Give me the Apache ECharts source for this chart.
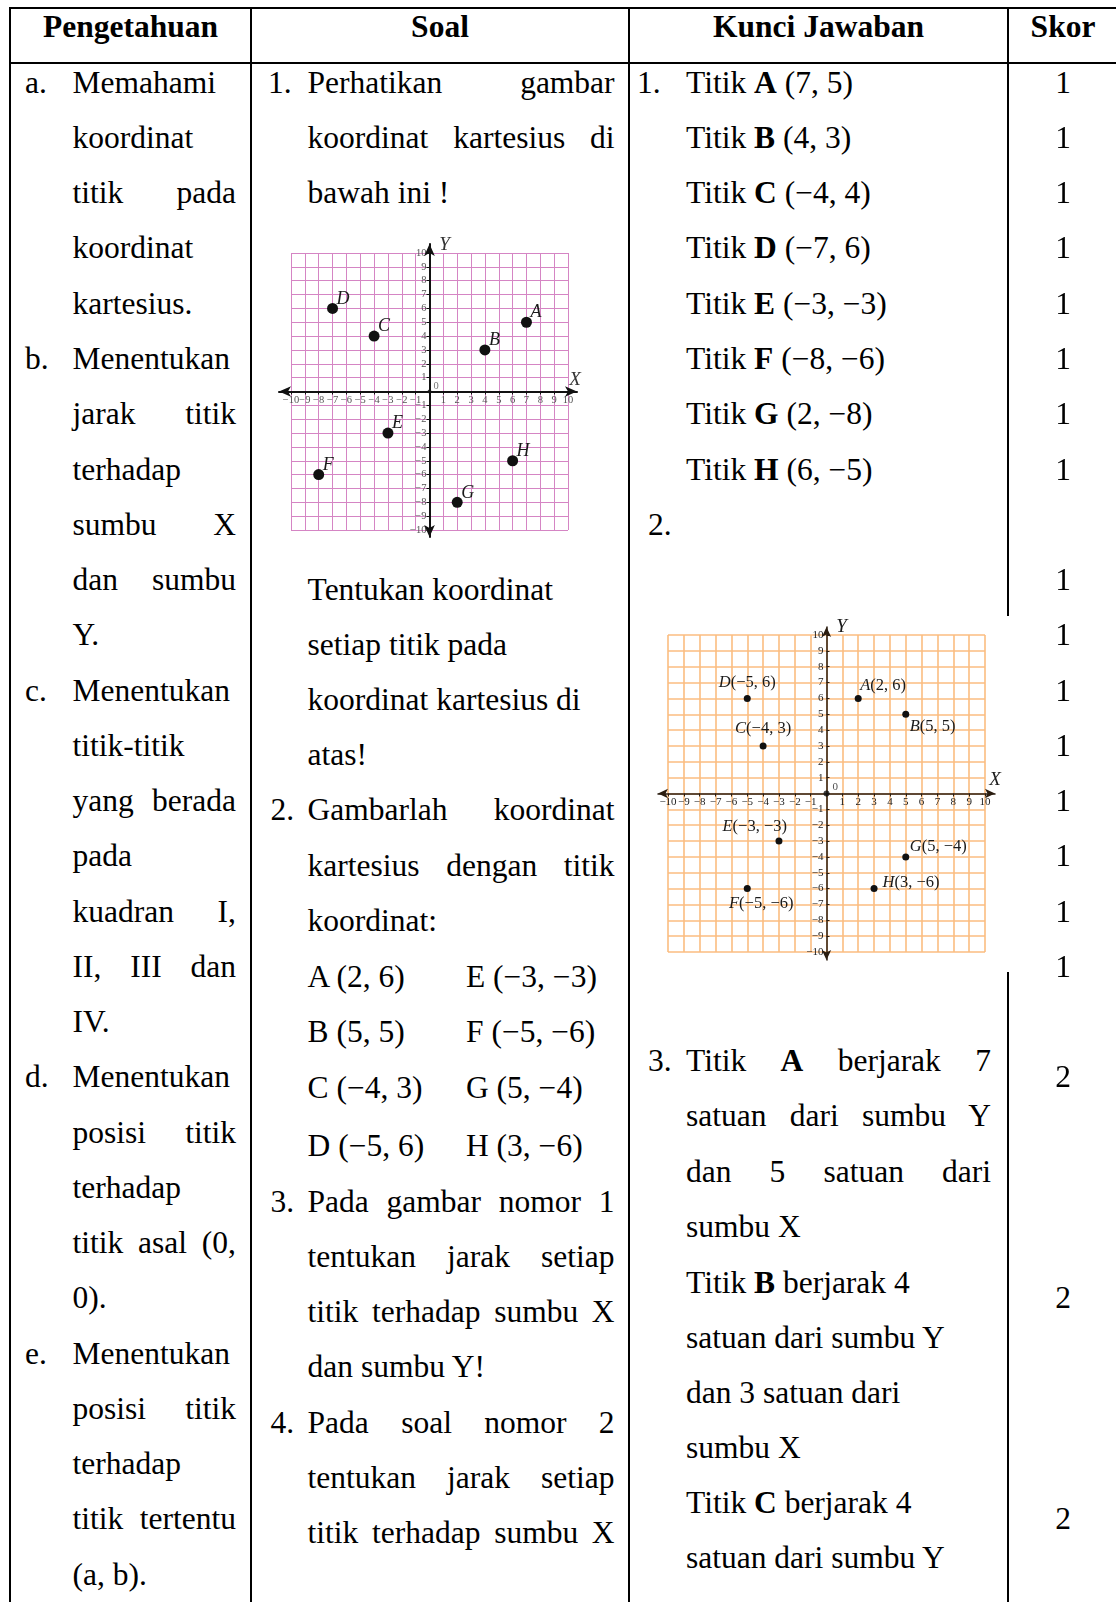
<!DOCTYPE html>
<html>
<head>
<meta charset="utf-8">
<title>Koordinat Kartesius</title>
<script src="https://cdn.jsdelivr.net/npm/echarts@6.0.0/dist/echarts.min.js"></script>
<style>
  html, body { margin: 0; padding: 0; background: #fff; }
  body { position: relative; width: 1116px; height: 1602px; overflow: hidden;
         font-family: "Liberation Serif", "DejaVu Serif", serif; color: #000; }
  .ln { position: absolute; font-size: 31.5px; line-height: 40px; white-space: nowrap; }
  .ln.j { white-space: normal; text-align: justify; text-align-last: justify; }
  .ln.c { text-align: center; }
  .ln.hd { font-weight: bold; }
  .rule { position: absolute; background: #000; }
  .chart { position: absolute; background: #fff; }
</style>
</head>
<body>
<!-- garis tabel -->
<div class="rule" style="left:9px;top:7px;width:1110px;height:2px"></div>
<div class="rule" style="left:9px;top:62px;width:1110px;height:2px"></div>
<div class="rule" style="left:9px;top:7px;width:2px;height:1600px"></div>
<div class="rule" style="left:250px;top:7px;width:2px;height:1600px"></div>
<div class="rule" style="left:628px;top:7px;width:2px;height:1600px"></div>
<div class="rule" style="left:1007px;top:7px;width:2px;height:1600px"></div>

<div id="gambar1" class="chart" style="left:262px;top:228px;width:336px;height:322px"></div>
<div id="gambar2" class="chart" style="left:640px;top:616px;width:374px;height:356px"></div>

<script>
// titik pada gambar nomor 1
const titik1 = ['A', 'B', 'C', 'D', 'E', 'F', 'G', 'H'];
const titik1X = [7, 4, -4, -7, -3, -8, 2, 6];
const titik1Y = [5, 3, 4, 6, -3, -6, -8, -5];

// titik pada soal nomor 2
const titik2 = ['A', 'B', 'C', 'D', 'E', 'F', 'G', 'H'];
const titik2X = [2, 5, -4, -5, -3, -5, 5, 3];
const titik2Y = [6, 5, 3, 6, -3, -6, -4, -6];

const titikAsal = [0, 0];
const sumbuMin = -10, sumbuMax = 10, sumbuStep = 1;
const sumbuTicks = [-10, -9, -8, -7, -6, -5, -4, -3, -2, -1, 0, 1, 2, 3, 4, 5, 6, 7, 8, 9, 10];

const skor = [1, 1, 1, 1, 1, 1, 1, 1, 1, 1, 1, 1, 1, 1, 1, 1, 2, 2, 2];
const skorBaris = [0, 1, 2, 3, 4, 5, 6, 7, 9, 10, 11, 12, 13, 14, 15, 16, 18, 22, 26];

const SERIF = '"Liberation Serif", "DejaVu Serif", serif';
const minus = v => v < 0 ? '\u2212' + (-v) : String(v);

// ---------- teks tabel ----------
const ROW0 = 93.3, ROW = 55.26;
const baris = i => ROW0 + ROW * i;
const dariKecil = c => c * 1.022 + 9.5;   // posisi baris yang diukur dari gambar kecil

function put(x, base, html, w, cls) {
  const d = document.createElement('div');
  d.className = 'ln' + (cls ? ' ' + cls : '');
  d.style.left = x + 'px';
  d.style.top = (base - 30.6) + 'px';
  if (w) d.style.width = w + 'px';
  d.innerHTML = html;
  document.body.appendChild(d);
}

// header
put(11, 38, 'Pengetahuan', 239, 'c hd');
put(252, 38, 'Soal', 376, 'c hd');
put(630, 38, 'Kunci Jawaban', 377, 'c hd');
put(1009, 38, 'Skor', 108, 'c hd');

// kolom pengetahuan
const pengetahuan = [
  ['a.', 'Memahami', 0], ['', 'koordinat', 0], ['', 'titik pada', 1], ['', 'koordinat', 0], ['', 'kartesius.', 0],
  ['b.', 'Menentukan', 0], ['', 'jarak titik', 1], ['', 'terhadap', 0], ['', 'sumbu X', 1], ['', 'dan sumbu', 1], ['', 'Y.', 0],
  ['c.', 'Menentukan', 0], ['', 'titik-titik', 0], ['', 'yang berada', 1], ['', 'pada', 0], ['', 'kuadran I,', 1],
  ['', 'II, III dan', 1], ['', 'IV.', 0],
  ['d.', 'Menentukan', 0], ['', 'posisi titik', 1], ['', 'terhadap', 0], ['', 'titik asal (0,', 1], ['', '0).', 0],
  ['e.', 'Menentukan', 0], ['', 'posisi titik', 1], ['', 'terhadap', 0], ['', 'titik tertentu', 1], ['', '(a, b).', 0]
];
pengetahuan.forEach((r, i) => {
  if (r[0]) put(25, baris(i), r[0]);
  put(72.5, baris(i), r[1], r[2] ? 163.5 : 0, r[2] ? 'j' : '');
});

// kolom soal
const soal1 = [['1.', 'Perhatikan gambar', 1], ['', 'koordinat kartesius di', 1], ['', 'bawah ini !', 0]];
soal1.forEach((r, i) => {
  if (r[0]) put(268, baris(i), r[0]);
  put(307.6, baris(i), r[1], r[2] ? 307 : 0, r[2] ? 'j' : '');
});
const soal2 = [
  [578, '', 'Tentukan koordinat', 0], [632, '', 'setiap titik pada', 0], [686, '', 'koordinat kartesius di', 0],
  [740, '', 'atas!', 0], [794, '2.', 'Gambarlah koordinat', 1], [848, '', 'kartesius dengan titik', 1],
  [902, '', 'koordinat:', 0],
  [1177, '3.', 'Pada gambar nomor 1', 1], [1231, '', 'tentukan jarak setiap', 1], [1285, '', 'titik terhadap sumbu X', 1],
  [1339, '', 'dan sumbu Y!', 0], [1393, '4.', 'Pada soal nomor 2', 1], [1447, '', 'tentukan jarak setiap', 1],
  [1501, '', 'titik terhadap sumbu X', 1]
];
soal2.forEach(r => {
  const b = dariKecil(r[0]);
  if (r[1]) put(270.5, b, r[1]);
  put(307.6, b, r[2], r[3] ? 307 : 0, r[3] ? 'j' : '');
});
const barisTitik = [957, 1011, 1066, 1122];
barisTitik.forEach((c, i) => {
  const k = i + 4;
  put(307.6, dariKecil(c), titik2[i] + ' (' + minus(titik2X[i]) + ', ' + minus(titik2Y[i]) + ')');
  put(466, dariKecil(c), titik2[k] + ' (' + minus(titik2X[k]) + ', ' + minus(titik2Y[k]) + ')');
});

// kolom kunci jawaban
put(637, baris(0), '1.');
titik1.forEach((n, i) => {
  put(686, baris(i), 'Titik <b>' + n + '</b> (' + minus(titik1X[i]) + ', ' + minus(titik1Y[i]) + ')');
});
put(648, baris(8), '2.');
const kunci3 = [
  [1039, '3.', 'Titik <b>A</b> berjarak 7', 1], [1093, '', 'satuan dari sumbu Y', 1], [1148, '', 'dan 5 satuan dari', 1],
  [1202, '', 'sumbu X', 0], [1256, '', 'Titik <b>B</b> berjarak 4', 0], [1310, '', 'satuan dari sumbu Y', 0],
  [1364, '', 'dan 3 satuan dari', 0], [1418, '', 'sumbu X', 0], [1472, '', 'Titik <b>C</b> berjarak 4', 0],
  [1526, '', 'satuan dari sumbu Y', 0]
];
kunci3.forEach(r => {
  const b = dariKecil(r[0]);
  if (r[1]) put(648, b, r[1]);
  put(686, b, r[2], r[3] ? 305 : 0, r[3] ? 'j' : '');
});

// kolom skor
skor.forEach((s, i) => put(1009, baris(skorBaris[i]), String(s), 108, 'c'));

// ---------- bidang kartesius ----------
function bidang(el, cfg, names, xs, ys) {
  const chart = echarts.init(el, null, { renderer: 'canvas' });
  const g = cfg.grid;
  const unit = g.size / (sumbuMax - sumbuMin);
  const ox = g.left - sumbuMin * unit, oy = g.top + sumbuMax * unit;
  const h = cfg.arrowLen / 2;
  // grid kedua untuk garis sumbu berpanah (lebih panjang dari kisi)
  const a = {
    left: cfg.arrowX[0] + h, width: cfg.arrowX[1] - cfg.arrowX[0] - 2 * h,
    top: cfg.arrowY[0] + h, height: cfg.arrowY[1] - cfg.arrowY[0] - 2 * h
  };
  const xmin = (a.left - ox) / unit, xmax = (a.left + a.width - ox) / unit;
  const ymax = (oy - a.top) / unit, ymin = (oy - a.top - a.height) / unit;
  // geser sumbu dari tepi grid ke titik nol
  const geserX = -(a.top + a.height - oy), geserY = -(ox - a.left);

  const tickFmt = v => v === 0 ? '' : minus(v);
  const kisi = () => ({
    gridIndex: 0, type: 'value', min: sumbuMin, max: sumbuMax, interval: sumbuStep,
    axisLine: { show: false }, axisTick: { show: false }, axisLabel: { show: false },
    splitLine: { show: true, lineStyle: { color: cfg.gridColor, width: cfg.gridWidth } }
  });
  const sumbu = (isX) => ({
    gridIndex: 1, type: 'value', min: isX ? xmin : ymin, max: isX ? xmax : ymax,
    position: isX ? 'bottom' : 'left', offset: isX ? geserX : geserY,
    axisLine: { show: true, onZero: false, symbol: ['arrow', 'arrow'], symbolSize: [cfg.arrowW, cfg.arrowLen],
                lineStyle: { color: cfg.axisColor, width: cfg.axisWidth } },
    axisTick: { show: true, customValues: sumbuTicks, inside: !isX && cfg.yTickInside, length: cfg.tickLen,
                lineStyle: { color: cfg.axisColor, width: 1 } },
    axisLabel: { show: true, customValues: sumbuTicks, formatter: tickFmt,
                 margin: isX ? cfg.xLabelMargin : cfg.yLabelMargin,
                 fontSize: cfg.tickFont, fontFamily: SERIF, color: cfg.tickColor },
    splitLine: { show: false },
    name: isX ? 'X' : 'Y', nameLocation: 'end', nameGap: isX ? cfg.xNameGap : cfg.yNameGap,
    nameMoveOverlap: false,
    nameTextStyle: isX
      ? { fontFamily: SERIF, fontStyle: 'italic', fontSize: cfg.nameFont, color: cfg.nameColor,
          align: 'center', verticalAlign: 'bottom', lineHeight: cfg.xNameLift }
      : { fontFamily: SERIF, fontStyle: 'italic', fontSize: cfg.nameFont, color: cfg.nameColor,
          align: 'center', verticalAlign: 'middle', padding: [0, 0, 0, 30] }
  });

  chart.setOption({
    animation: false,
    grid: [
      { left: g.left, top: g.top, width: g.size, height: g.size, outerBoundsMode: 'none', containLabel: false },
      { left: a.left, top: a.top, width: a.width, height: a.height, outerBoundsMode: 'none', containLabel: false }
    ],
    xAxis: [kisi(), sumbu(true)],
    yAxis: [kisi(), sumbu(false)],
    series: [
      {
        type: 'scatter', xAxisIndex: 0, yAxisIndex: 0, silent: true, z: 5,
        symbolSize: cfg.dot, itemStyle: { color: '#111', opacity: 1 },
        data: names.map((n, i) => Object.assign({ name: n, value: [xs[i], ys[i]] },
                                                cfg.labelAt ? { label: cfg.labelAt[i] } : {})),
        label: {
          show: true, position: 'right', offset: cfg.labelOffset, color: '#1a1a1a',
          fontFamily: SERIF, fontSize: cfg.labelFont,
          formatter: cfg.labelFmt,
          rich: { i: { fontFamily: SERIF, fontStyle: 'italic', fontSize: cfg.labelFont, color: '#1a1a1a' } }
        }
      },
      {
        type: 'scatter', xAxisIndex: 0, yAxisIndex: 0, silent: true, z: 5,
        symbolSize: cfg.originDot, itemStyle: { color: '#111' },
        data: [titikAsal],
        label: { show: true, position: 'right', offset: cfg.zeroOffset, formatter: '0',
                 fontFamily: SERIF, fontSize: cfg.tickFont, color: cfg.tickColor }
      }
    ]
  });
  return chart;
}

// gambar nomor 1 (kisi merah muda)
bidang(document.getElementById('gambar1'), {
  grid: { left: 29, top: 25, size: 277 },
  arrowX: [11, 321], arrowY: [10, 315], arrowLen: 12, arrowW: 8,
  axisColor: '#111', axisWidth: 2, gridColor: '#d585c4', gridWidth: 1,
  tickLen: 3, yTickInside: false, tickFont: 10.5, tickColor: '#555', xLabelMargin: 3, yLabelMargin: 3,
  nameFont: 19, nameColor: '#333', xNameGap: -2, xNameLift: 24, yNameGap: -1,
  dot: 11, originDot: 4, zeroOffset: [-3, -5],
  labelFont: 18, labelOffset: [-6.5, -9.5],
  labelFmt: '{i|{b}}'
}, titik1, titik1X, titik1Y);

// soal nomor 2 (kisi oranye) dengan label koordinat
const letakLabel2 = [
  { position: 'right', offset: [-6.5, -13] },
  { position: 'right', offset: [-4.5, 12.5] },
  { position: 'top', offset: [0, 0] },
  { position: 'top', offset: [0, 1] },
  { position: 'left', offset: [16.5, -14] },
  { position: 'bottom', offset: [14, -2] },
  { position: 'right', offset: [-4.5, -10] },
  { position: 'right', offset: [0, -5.5] }
];
bidang(document.getElementById('gambar2'), {
  grid: { left: 28, top: 19, size: 317 },
  arrowX: [13, 360], arrowY: [6, 349], arrowLen: 10, arrowW: 7,
  axisColor: '#2b1d10', axisWidth: 1.5, gridColor: '#fbbd80', gridWidth: 1.6,
  tickLen: 3, yTickInside: true, tickFont: 11, tickColor: '#222', xLabelMargin: 3, yLabelMargin: 3,
  nameFont: 19, nameColor: '#1a1a1a', xNameGap: 0, xNameLift: 27, yNameGap: 0,
  dot: 7, originDot: 6, zeroOffset: [-2, -6.5],
  labelFont: 16.5, labelOffset: [0, 0], labelAt: letakLabel2,
  labelFmt: p => '{i|' + p.name + '}(' + minus(p.value[0]) + ', ' + minus(p.value[1]) + ')'
}, titik2, titik2X, titik2Y);
</script>
</body>
</html>
